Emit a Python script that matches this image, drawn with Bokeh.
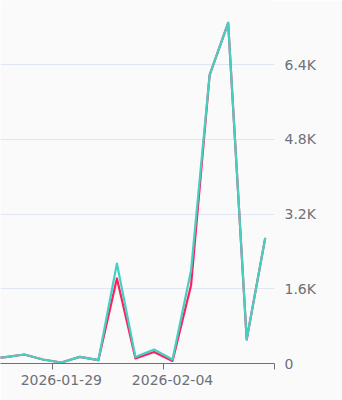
from bokeh.plotting import figure
from bokeh.models import LinearAxis, FixedTicker, Range1d
from bokeh.embed import file_html
from bokeh.resources import INLINE

dates = ["2026-01-25", "2026-01-26", "2026-01-27", "2026-01-28", "2026-01-29",
         "2026-01-30", "2026-01-31", "2026-02-01", "2026-02-02", "2026-02-03",
         "2026-02-04", "2026-02-05", "2026-02-06", "2026-02-07", "2026-02-08",
         "2026-02-09"]
series_teal = [110, 135, 193, 86, 22, 141, 71, 2142, 141, 300, 86, 1998, 6175, 7296, 514, 2690]
series_pink = [110, 135, 193, 86, 22, 141, 71, 1821, 107, 248, 56, 1677, 6175, 7296, 514, 2690]
y_ticks = [0, 1600, 3200, 4800, 6400]
y_tick_labels = ["0", "1.6K", "3.2K", "4.8K", "6.4K"]
x_tick_labels = ["2026-01-29", "2026-02-04"]

idx = list(range(len(dates)))
FONT = "DejaVu Sans"
LBL = "#6e7079"
BG = "#fafafa"

p = figure(width=342, height=400, output_backend="svg", toolbar_location=None,
           x_range=Range1d(0.72, len(dates) - 0.5), y_range=Range1d(0, 7775),
           y_axis_location="right",
           min_border_left=0, min_border_top=0, min_border_right=68, min_border_bottom=37,
           background_fill_color=BG, border_fill_color=BG, outline_line_color=None)

p.line(idx, series_pink, line_color="#fb2160", line_width=2.2, line_join="round")
p.line(idx, series_teal, line_color="#45d0c1", line_width=2.2, line_join="round")

# grid
p.xgrid.visible = False
p.ygrid.ticker = FixedTicker(ticks=y_ticks)
p.ygrid.grid_line_color = "#e0e6f1"
p.ygrid.grid_line_width = 1

# right y axis
ya = p.yaxis[0]
ya.ticker = FixedTicker(ticks=y_ticks)
ya.major_label_overrides = {t: l for t, l in zip(y_ticks, y_tick_labels)}
ya.axis_line_color = None
ya.major_tick_line_color = None
ya.minor_tick_line_color = None
ya.major_tick_out = 0
ya.minor_tick_out = 0
ya.major_label_standoff = 10
ya.major_label_text_font = FONT
ya.major_label_text_font_size = "14px"
ya.major_label_text_color = LBL

# x axis: ticks at category boundaries
label_pos = [dates.index(d) for d in x_tick_labels]
bound_pos = [i - 0.5 for i in label_pos] + [len(dates) - 0.5001]
xa = p.xaxis[0]
xa.ticker = FixedTicker(ticks=bound_pos)
xa.major_label_overrides = {t: "" for t in bound_pos}
xa.axis_line_color = LBL
xa.major_tick_line_color = LBL
xa.minor_tick_line_color = None
xa.major_tick_in = 0
xa.major_tick_out = 6
xa.major_label_standoff = 0
xa.major_label_text_font_size = "1px"

# x axis labels at category centers
xl = LinearAxis(ticker=FixedTicker(ticks=label_pos),
                major_label_overrides={t: l for t, l in zip(label_pos, x_tick_labels)})
xl.axis_line_color = None
xl.major_tick_line_color = None
xl.minor_tick_line_color = None
xl.major_tick_out = 0
xl.major_tick_in = 0
xl.major_label_standoff = 5
xl.major_label_text_font = FONT
xl.major_label_text_font_size = "14px"
xl.major_label_text_color = LBL
p.add_layout(xl, "below")

open("out.html", "w").write(file_html(p, INLINE))
